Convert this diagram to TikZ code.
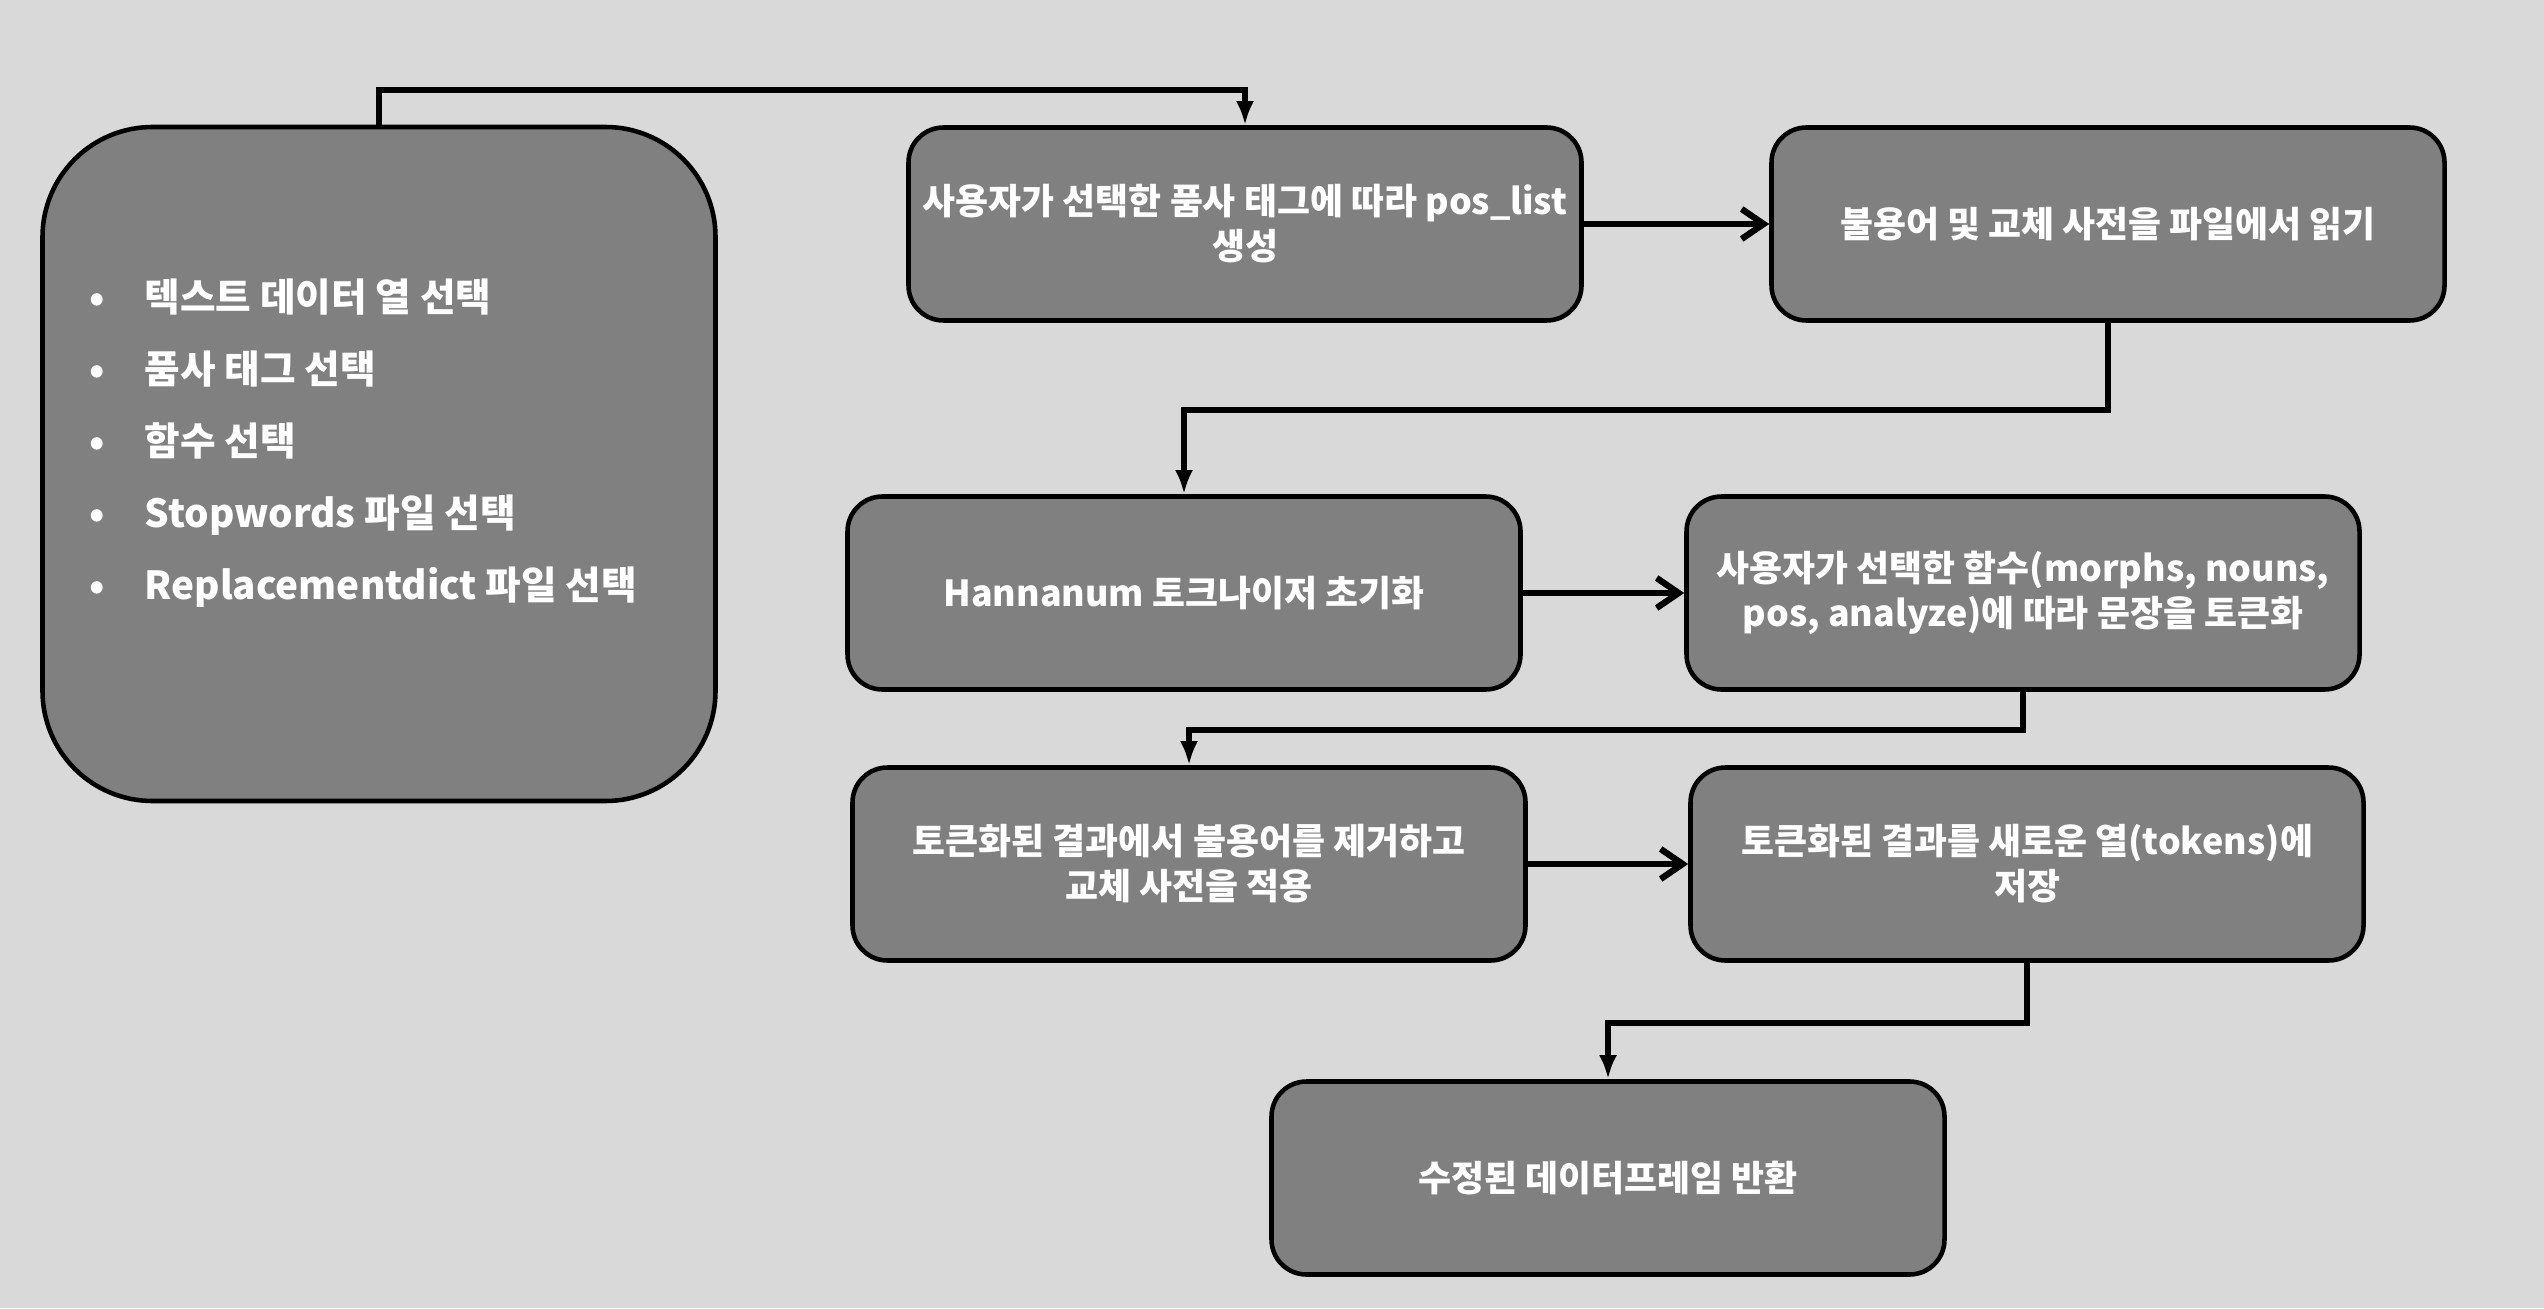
\documentclass[tikz,border=0pt]{standalone}
\usepackage{fontspec}
\setmainfont{Noto Sans CJK KR}
\usetikzlibrary{arrows.meta}
\definecolor{bgcol}{HTML}{D9D9D9}
\definecolor{boxcol}{HTML}{808080}
\tikzset{
 box/.style={draw=black, line width=1.3pt, fill=boxcol, rounded corners=0.35cm,
  minimum width=6.73cm, minimum height=1.93cm, inner xsep=1pt, align=center, text=white,
  font=\bfseries\fontsize{10.2}{12.8}\selectfont},
 bigbox/.style={draw=black, line width=1.3pt, fill=boxcol, rounded corners=1.1cm,
  minimum width=6.73cm, minimum height=6.74cm},
 elbow/.style={line width=1.8pt, -{Latex[length=2.4mm,width=1.8mm]}},
 across/.style={line width=1.8pt, -{Straight Barb[length=2.2mm,width=3mm]}}
}
\begin{document}
\begin{tikzpicture}
 \fill[bgcol] (0,0) rectangle (25.44,-13.08);
 \useasboundingbox (0,0) rectangle (25.44,-13.08);
 % input options
 \node[bigbox] (input) at (3.79,-4.64) {};
 \node[anchor=north west, align=left, text=white, inner sep=0pt,
  font=\bfseries\fontsize{11}{20.5}\selectfont] (opts) at (0.89,-2.78) {%
  \makebox[0.55cm][l]{•}텍스트 데이터 열 선택\\
  \makebox[0.55cm][l]{•}품사 태그 선택\\
  \makebox[0.55cm][l]{•}함수 선택\\
  \makebox[0.55cm][l]{•}Stopwords 파일 선택\\
  \makebox[0.55cm][l]{•}Replacementdict 파일 선택};
 % steps
 \node[box] (pos) at (12.45,-2.24) {사용자가 선택한 품사 태그에 따라 pos\_list\\생성};
 \node[box] (dict) at (21.08,-2.24) {불용어 및 교체 사전을 파일에서 읽기};
 \node[box] (init) at (11.84,-5.93) {Hannanum 토크나이저 초기화};
 \node[box] (tok) at (20.23,-5.93) {사용자가 선택한 함수(morphs, nouns,\\pos, analyze)에 따라 문장을 토큰화};
 \node[box] (stop) at (11.89,-8.64) {토큰화된 결과에서 불용어를 제거하고\\교체 사전을 적용};
 \node[box] (save) at (20.27,-8.64) {토큰화된 결과를 새로운 열(tokens)에\\저장};
 \node[box] (ret) at (16.08,-11.78) {수정된 데이터프레임 반환};
 % connectors
 \draw[elbow] (input.north) -- ++(0,0.35) -| (pos.north);
 \draw[across] (pos.east) -- (dict.west);
 \draw[elbow] (dict.south) -- ++(0,-0.87) -| (init.north);
 \draw[across] (init.east) -- (tok.west);
 \draw[elbow] (tok.south) -- ++(0,-0.38) -| (stop.north);
 \draw[across] (stop.east) -- (save.west);
 \draw[elbow] (save.south) -- ++(0,-0.60) -| (ret.north);
\end{tikzpicture}
\end{document}
